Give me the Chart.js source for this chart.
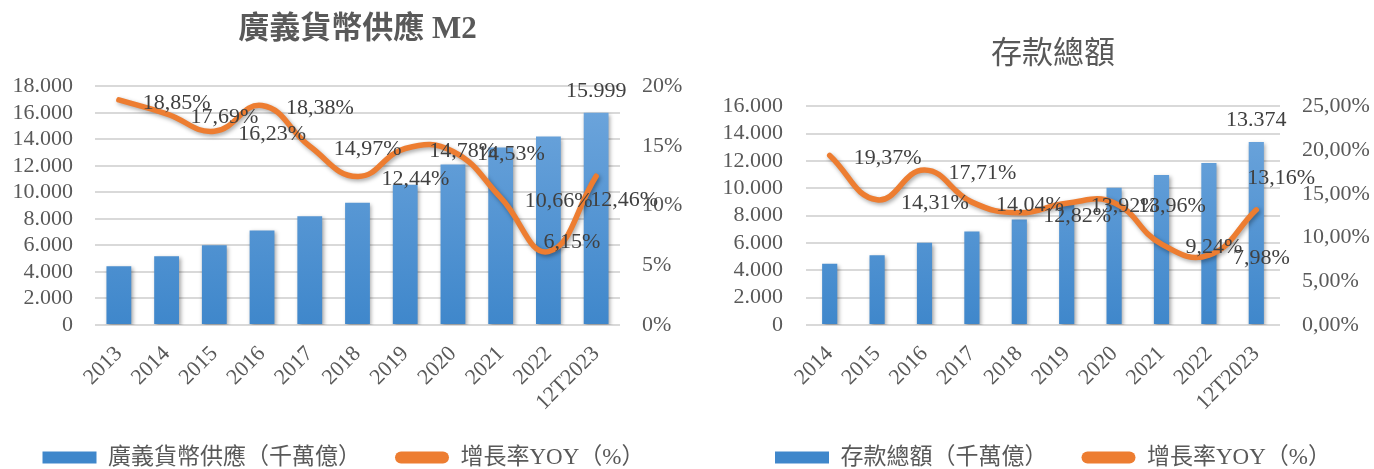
<!DOCTYPE html>
<html>
<head>
<meta charset="utf-8">
<script src="https://cdn.jsdelivr.net/npm/chart.js@4.4.1/dist/chart.umd.min.js"></script>
<style>
  html, body { margin: 0; padding: 0; background: #fff; }
  #wrap { position: relative; width: 1374px; height: 469px; overflow: hidden; }
  #m2Chart { position: absolute; left: 0; top: 0; }
  #depChart { position: absolute; left: 700px; top: 0; }
</style>
</head>
<body>
<div id="wrap">
  <canvas id="m2Chart" width="687" height="469"></canvas>
  <canvas id="depChart" width="674" height="469"></canvas>
</div>
<script>
'use strict';

// 廣義貨幣供應 M2
var m2Years = ['2013', '2014', '2015', '2016', '2017', '2018', '2019', '2020', '2021', '2022', '12T2023'];
var m2Values = [4420, 5180, 6010, 7130, 8200, 9220, 10580, 12100, 13380, 14200, 15999];
var m2Growth = [18.85, 17.69, 16.23, 18.38, 14.97, 12.44, 14.78, 14.53, 10.66, 6.15, 12.46];

// 存款總額
var depYears = ['2014', '2015', '2016', '2017', '2018', '2019', '2020', '2021', '2022', '12T2023'];
var depValues = [4480, 5095, 6020, 6840, 7715, 8790, 10040, 10960, 11850, 13374];
var depGrowth = [19.37, 14.31, 17.71, 14.04, 12.82, 13.92, 13.96, 9.24, 7.98, 13.16];

var SERIF = "'Liberation Serif', 'Noto Sans CJK TC', serif";
var GREY = '#595959';
var ORANGE = '#ED7D31';

Chart.defaults.font.family = SERIF;
Chart.defaults.color = GREY;

function fmtThousands(v) {
  return String(Math.round(v)).replace(/\B(?=(\d{3})+(?!\d))/g, '.');
}

function fmtPct(v, digits) {
  return v.toFixed(digits).replace('.', ',') + '%';
}

function barGradient(context) {
  var area = context.chart.chartArea;
  if (!area) return '#5B9BD5';
  var g = context.chart.ctx.createLinearGradient(0, area.bottom, 0, area.top);
  g.addColorStop(0, '#3F87CB');
  g.addColorStop(1, '#70A7DD');
  return g;
}

// Excel-like soft shadow under bars and line
var shadowPlugin = {
  id: 'softShadow',
  beforeDatasetDraw: function(chart) {
    var ctx = chart.ctx;
    ctx.save();
    ctx.shadowColor = 'rgba(0,0,0,0.35)';
    ctx.shadowBlur = 4;
    ctx.shadowOffsetX = 1.5;
    ctx.shadowOffsetY = 2;
  },
  afterDatasetDraw: function(chart) {
    chart.ctx.restore();
  }
};

// growth labels to the right of each point, value only on the last bar
var labelPlugin = {
  id: 'valueLabels',
  afterDatasetsDraw: function(chart, args, opts) {
    var ctx = chart.ctx;
    var shift = opts.shift || {};
    ctx.save();
    ctx.font = '22px ' + SERIF;
    ctx.fillStyle = '#404040';
    ctx.textBaseline = 'middle';

    var lineData = chart.data.datasets[1].data;
    ctx.textAlign = 'left';
    chart.getDatasetMeta(1).data.forEach(function(pt, i) {
      var s = shift[i] || [0, 0];
      ctx.fillText(fmtPct(lineData[i], 2), pt.x + 24 + s[0], pt.y + 3 + s[1]);
    });

    var bars = chart.getDatasetMeta(0).data;
    var last = bars.length - 1;
    ctx.textAlign = 'center';
    ctx.fillText(fmtThousands(chart.data.datasets[0].data[last]), bars[last].x, bars[last].y - 22);
    ctx.restore();
  }
};

function makeChart(id, cfg) {
  var ctx = document.getElementById(id).getContext('2d');
  return new Chart(ctx, {
    data: {
      labels: cfg.labels,
      datasets: [{
        type: 'bar',
        label: cfg.barLabel,
        data: cfg.bars,
        yAxisID: 'y',
        order: 1,
        backgroundColor: barGradient,
        barPercentage: cfg.barPct,
        categoryPercentage: 1
      }, {
        type: 'line',
        label: '增長率YOY（%）',
        data: cfg.growth,
        yAxisID: 'y2',
        order: 0,
        borderColor: ORANGE,
        backgroundColor: ORANGE,
        borderWidth: 5.5,
        borderCapStyle: 'round',
        borderJoinStyle: 'round',
        tension: 0.45,
        pointRadius: 0
      }]
    },
    options: {
      responsive: false,
      animation: false,
      devicePixelRatio: 1,
      layout: { padding: { left: 0, right: cfg.padRight, top: 0, bottom: -10 } },
      plugins: {
        title: {
          display: true,
          text: cfg.title,
          fullSize: cfg.titleFull,
          color: GREY,
          font: { size: 31, weight: cfg.titleWeight, family: SERIF },
          padding: { top: cfg.titlePadTop, bottom: cfg.titlePadBottom }
        },
        legend: {
          position: 'bottom',
          labels: {
            boxWidth: 54,
            boxHeight: 12,
            padding: 34,
            color: GREY,
            useBorderRadius: true,
            font: { size: 23, family: SERIF },
            sort: function(a, b) { return a.datasetIndex - b.datasetIndex; },
            generateLabels: function(chart) {
              var items = Chart.defaults.plugins.legend.labels.generateLabels(chart);
              items.forEach(function(it) {
                it.lineWidth = 0;
                it.borderRadius = chart.data.datasets[it.datasetIndex].type === 'line' ? 6 : 0;
              });
              return items;
            }
          }
        },
        tooltip: { enabled: false },
        valueLabels: { shift: cfg.shift }
      },
      scales: {
        x: {
          grid: { display: false },
          border: { display: false },
          ticks: {
            autoSkip: false,
            minRotation: 45,
            maxRotation: 45,
            padding: 8,
            color: GREY,
            font: { size: 22 }
          },
          afterFit: function(s) { s.height = 87; }
        },
        y: {
          position: 'left',
          min: 0,
          max: cfg.yMax,
          border: { display: false },
          grid: { color: '#D9D9D9', lineWidth: 2, drawTicks: false, tickLength: 0 },
          ticks: {
            autoSkip: false,
            stepSize: 2000,
            padding: cfg.yPad,
            color: GREY,
            font: { size: 22 },
            callback: function(v) { return fmtThousands(v); }
          },
          afterFit: function(s) { s.width = cfg.yWidth; }
        },
        y2: {
          position: 'right',
          min: 0,
          max: cfg.y2Max,
          border: { display: false },
          grid: { drawOnChartArea: false, drawTicks: false, tickLength: 0 },
          ticks: {
            autoSkip: false,
            stepSize: 5,
            padding: 22,
            color: GREY,
            font: { size: 22 },
            callback: function(v) { return fmtPct(v, cfg.pctDigits); }
          },
          afterFit: function(s) { s.width = cfg.y2Width; }
        }
      }
    },
    plugins: [shadowPlugin, labelPlugin]
  });
}

makeChart('m2Chart', {
  labels: m2Years,
  bars: m2Values,
  growth: m2Growth,
  barLabel: '廣義貨幣供應（千萬億）',
  title: '廣義貨幣供應 M2',
  titleWeight: 'bold',
  titleFull: false,
  titlePadTop: 11,
  titlePadBottom: 38,
  barPct: 0.52,
  yMax: 18000,
  y2Max: 20,
  pctDigits: 0,
  padRight: 0,
  yWidth: 95,
  yPad: 22,
  y2Width: 67,
  shift: { 9: [-29, -12], 10: [-30, 21] }
});

// negative right padding keeps title and legend centred where the reference has them
makeChart('depChart', {
  labels: depYears,
  bars: depValues,
  growth: depGrowth,
  barLabel: '存款總額（千萬億）',
  title: '存款總額',
  titleWeight: 'normal',
  titleFull: true,
  titlePadTop: 36,
  titlePadBottom: 33,
  barPct: 0.32,
  yMax: 16000,
  y2Max: 25,
  pctDigits: 2,
  padRight: -32,
  yWidth: 106,
  yPad: 23,
  y2Width: 126,
  shift: { 9: [-33, -35] }
});
</script>
</body>
</html>
